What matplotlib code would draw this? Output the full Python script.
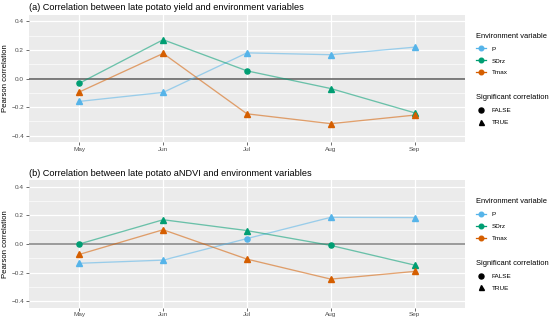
import matplotlib.pyplot as plt
from matplotlib.lines import Line2D

plt.rcParams["font.family"] = ["Liberation Sans", "DejaVu Sans"]

months = ["May", "Jun", "Jul", "Aug", "Sep"]
variables = ["P", "SDrz", "Tmax"]
colors = {"P": "#56B4E9", "SDrz": "#009E73", "Tmax": "#D55E00"}

# panel (a): yield
yield_corr = {
    "P": [-0.16, -0.097, 0.18, 0.167, 0.22],
    "SDrz": [-0.033, 0.272, 0.054, -0.07, -0.24],
    "Tmax": [-0.094, 0.176, -0.247, -0.316, -0.256],
}
yield_sig = {
    "P": [True, True, True, True, True],
    "SDrz": [False, True, False, True, True],
    "Tmax": [True, True, True, True, True],
}

# panel (b): aNDVI
ndvi_corr = {
    "P": [-0.135, -0.113, 0.038, 0.187, 0.185],
    "SDrz": [0.0, 0.17, 0.094, -0.01, -0.148],
    "Tmax": [-0.073, 0.1, -0.106, -0.246, -0.192],
}
ndvi_sig = {
    "P": [True, True, False, True, True],
    "SDrz": [False, True, True, False, True],
    "Tmax": [True, True, True, True, True],
}

titles = [
    "(a) Correlation between late potato yield and environment variables",
    "(b) Correlation between late potato aNDVI and environment variables",
]
zero_line = [("#5A5A5A", 1.1), ("#9A9A9A", 1.4)]

fig = plt.figure(figsize=(5.5, 3.2), dpi=100)
ax_a = fig.add_axes([0.0527, 0.556, 0.7927, 0.397])
ax_b = fig.add_axes([0.0527, 0.039, 0.7927, 0.397])

x = list(range(1, len(months) + 1))
panels = [(ax_a, yield_corr, yield_sig, titles[0], zero_line[0]),
          (ax_b, ndvi_corr, ndvi_sig, titles[1], zero_line[1])]
for ax, corr, sig, title, (zc, zw) in panels:
    ax.set_facecolor("#EBEBEB")
    for s in ax.spines.values():
        s.set_visible(False)
    ax.set_xlim(0.4, 5.6)
    ax.set_ylim(-0.445, 0.445)
    ax.set_yticks([-0.4, -0.2, 0.0, 0.2, 0.4])
    ax.set_yticks([-0.3, -0.1, 0.1, 0.3], minor=True)
    ax.set_xticks(x)
    ax.set_xticklabels(months)
    ax.grid(True, which="major", color="white", lw=0.9)
    ax.grid(True, which="minor", axis="y", color="white", lw=0.45)
    ax.set_axisbelow(True)
    ax.tick_params(axis="both", which="major", labelsize=4.6, colors="#333333",
                   labelcolor="#4D4D4D", length=2, width=0.5, pad=1.5)
    ax.tick_params(axis="y", which="minor", length=0)
    ax.axhline(0, color=zc, lw=zw, zorder=2)
    for v in variables:
        ax.plot(x, corr[v], color=colors[v], lw=0.95, alpha=0.55, zorder=3)
        for xi, yi, si in zip(x, corr[v], sig[v]):
            ax.plot(xi, yi, marker="^" if si else "o", color=colors[v],
                    ms=4.6 if si else 3.7, ls="none", zorder=4)
    ax.set_ylabel("Pearson correlation", fontsize=5.6, labelpad=2)
    ax.set_title(title, fontsize=6.6, loc="left", x=-0.0, pad=3.5)

    var_handles = [Line2D([], [], color=colors[v], lw=0.9, marker="o", ms=3.3,
                          markerfacecolor=colors[v], markeredgecolor=colors[v])
                   for v in variables]
    leg1 = ax.legend(var_handles, variables, title="Environment variable",
                     loc="upper left", bbox_to_anchor=(1.025, 0.86), frameon=False,
                     fontsize=4.6, title_fontsize=5.4, handlelength=1.6,
                     handletextpad=0.9, labelspacing=1.0, borderaxespad=0,
                     borderpad=0)
    leg1._legend_box.align = "left"
    ax.add_artist(leg1)
    sig_handles = [Line2D([], [], color="black", marker=m, ms=3.6, ls="none")
                   for m in ["o", "^"]]
    leg2 = ax.legend(sig_handles, ["FALSE", "TRUE"], title="Significant correlation",
                     loc="upper left", bbox_to_anchor=(1.025, 0.375), frameon=False,
                     fontsize=4.6, title_fontsize=5.4, handlelength=1.6,
                     handletextpad=0.9, labelspacing=1.0, borderaxespad=0,
                     borderpad=0)
    leg2._legend_box.align = "left"

fig.savefig("out.png", dpi=100)
